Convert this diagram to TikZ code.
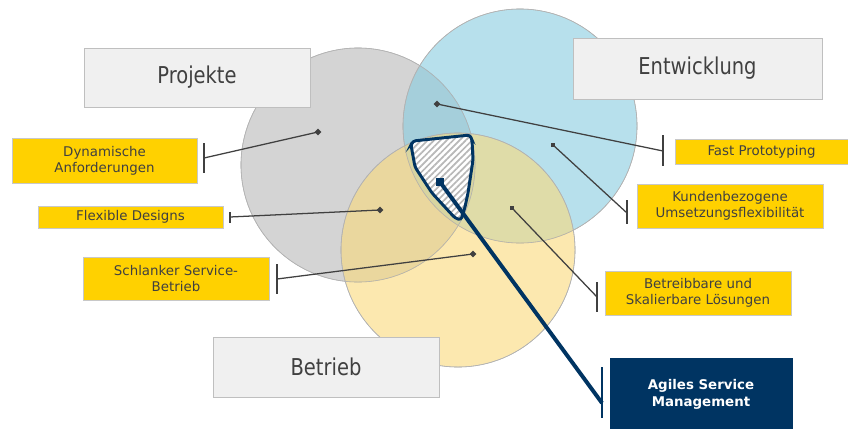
\documentclass[tikz,border=0pt]{standalone}
\usepackage{fontspec}
\setmainfont{DejaVu Sans}
\newfontfamily\headfont[FakeStretch=0.84]{DejaVu Sans}
\usetikzlibrary{positioning,patterns.meta}

\definecolor{boxgray}{HTML}{F0F0F0}
\definecolor{boxline}{HTML}{BFBFBF}
\definecolor{tagyellow}{HTML}{FFD100}
\definecolor{tagline}{HTML}{C8C8C8}
\definecolor{asmblue}{HTML}{003462}
\definecolor{inkgray}{HTML}{404040}
\definecolor{circgray}{rgb}{0.717,0.717,0.717}
\definecolor{circblue}{rgb}{0.53,0.80,0.88}
\definecolor{circyellow}{rgb}{0.98,0.85,0.48}

\begin{document}
\begin{tikzpicture}[x=0.025cm, y=-0.025cm,
	area/.style={draw=black!30, line width=0.4pt, fill opacity=0.6},
	title/.style={rectangle, draw=boxline, fill=boxgray, text=inkgray, font=\headfont\fontsize{16.5}{19}\selectfont},
	tag/.style={rectangle, draw=tagline, fill=tagyellow, text=inkgray, align=center, inner sep=0pt, font=\fontsize{9.5}{11.5}\selectfont},
	dia/.style={rectangle, fill=inkgray, minimum size=3.5pt, inner sep=0pt, rotate=45},
	sq/.style={rectangle, fill=inkgray, minimum size=3.5pt, inner sep=0pt},
	link/.style={draw=inkgray, line width=0.9pt},
	tick/.style={draw=inkgray, line width=1.1pt}
]
\useasboundingbox (0,0) rectangle (848,428);

% circles
\fill[area, fill=circgray] (358,165) circle [radius=2.925cm];
\fill[area, fill=circblue] (520,126) circle [radius=2.925cm];
\fill[area, fill=circyellow] (458,250) circle [radius=2.925cm];
\draw[black!30, line width=0.4pt] (358,165) circle [radius=2.925cm];
\draw[black!30, line width=0.4pt] (520,126) circle [radius=2.925cm];
\draw[black!30, line width=0.4pt] (458,250) circle [radius=2.925cm];

% titles
\node[title, minimum width=5.65cm, minimum height=1.475cm] (projekte) at (197,77.5) {Projekte};
\node[title, minimum width=6.225cm, minimum height=1.525cm] (entwicklung) at (697.5,68.5) {Entwicklung};
\node[title, minimum width=5.65cm, minimum height=1.5cm] (betrieb) at (326,367) {Betrieb};

% tags
\node[tag, minimum width=4.625cm, minimum height=1.125cm] (dynamisch) at (104.5,160.5) {Dynamische\\Anforderungen};
\node[tag, minimum width=4.625cm, minimum height=0.55cm] (flexibel) at (130.5,217) {Flexible Designs};
\node[tag, minimum width=4.65cm, minimum height=1.075cm] (schlank) at (176,278.5) {Schlanker Service-\\Betrieb};
\node[tag, minimum width=4.325cm, minimum height=0.625cm] (prototyp) at (761.5,151.5) {Fast Prototyping};
\node[tag, minimum width=4.65cm, minimum height=1.1cm] (kunden) at (730,206) {Kundenbezogene\\Umsetzungsflexibilität};
\node[tag, minimum width=4.65cm, minimum height=1.1cm] (skalier) at (698,293) {Betreibbare und\\Skalierbare Lösungen};
\node[tag, fill=asmblue, draw=asmblue, text=white, minimum width=4.55cm, minimum height=1.8cm, font=\bfseries\fontsize{9.5}{12}\selectfont] (agil) at (701,394.5) {Agiles Service\\Management};

% markers and bar ends
\node[dia] (mdyn) at (318,132) {};
\node[dia] (mflex) at (380,210) {};
\node[dia] (mschl) at (473,254) {};
\node[dia] (mfast) at (437,104) {};
\node[sq] (mkund) at (553,145) {};
\node[sq] (mskal) at (512,208) {};
\coordinate (bdyn) at (204,158);
\coordinate (bflex) at (230,217);
\coordinate (bschl) at (277,279);
\coordinate (bfast) at (663,151);
\coordinate (bkund) at (627,213);
\coordinate (bskal) at (597,297);

\draw[link] (mdyn.center) -- (bdyn);
\draw[link] (mflex.center) -- (bflex);
\draw[link] (mschl.center) -- (bschl);
\draw[link] (mfast.center) -- (bfast);
\draw[link] (mkund.center) -- (bkund);
\draw[link] (mskal.center) -- (bskal);
\draw[tick] (bdyn) +(0,-15) -- +(0,15);
\draw[tick] (bflex) +(0,-5) -- +(0,6);
\draw[tick] (bschl) +(0,-15) -- +(0,15);
\draw[tick] (bfast) +(0,-16) -- +(0,15);
\draw[tick] (bkund) +(0,-13) -- +(0,11);
\draw[tick] (bskal) +(0,-15) -- +(0,15);

% hatched core
\draw[asmblue, line width=2.1pt, rounded corners=2pt, preaction={fill=white},
	pattern={Lines[angle=45, distance=3.2pt, line width=1.2pt]}, pattern color=black!28]
	(411,145) -- (413,141) -- (470,135) -- (472,140) -- (473,160) -- (468,193) -- (465,207) -- (461,220) -- (455,218)
	-- (432,193) -- (415,167) -- cycle;
\node[rectangle, fill=asmblue, minimum size=5.5pt, inner sep=0pt] (masm) at (440,182) {};
\coordinate (basm) at (602,403);
\draw[asmblue, line width=2.8pt] (masm.center) -- (basm);
\draw[asmblue, line width=2.1pt] (602,367) -- (602,418);
\end{tikzpicture}
\end{document}
